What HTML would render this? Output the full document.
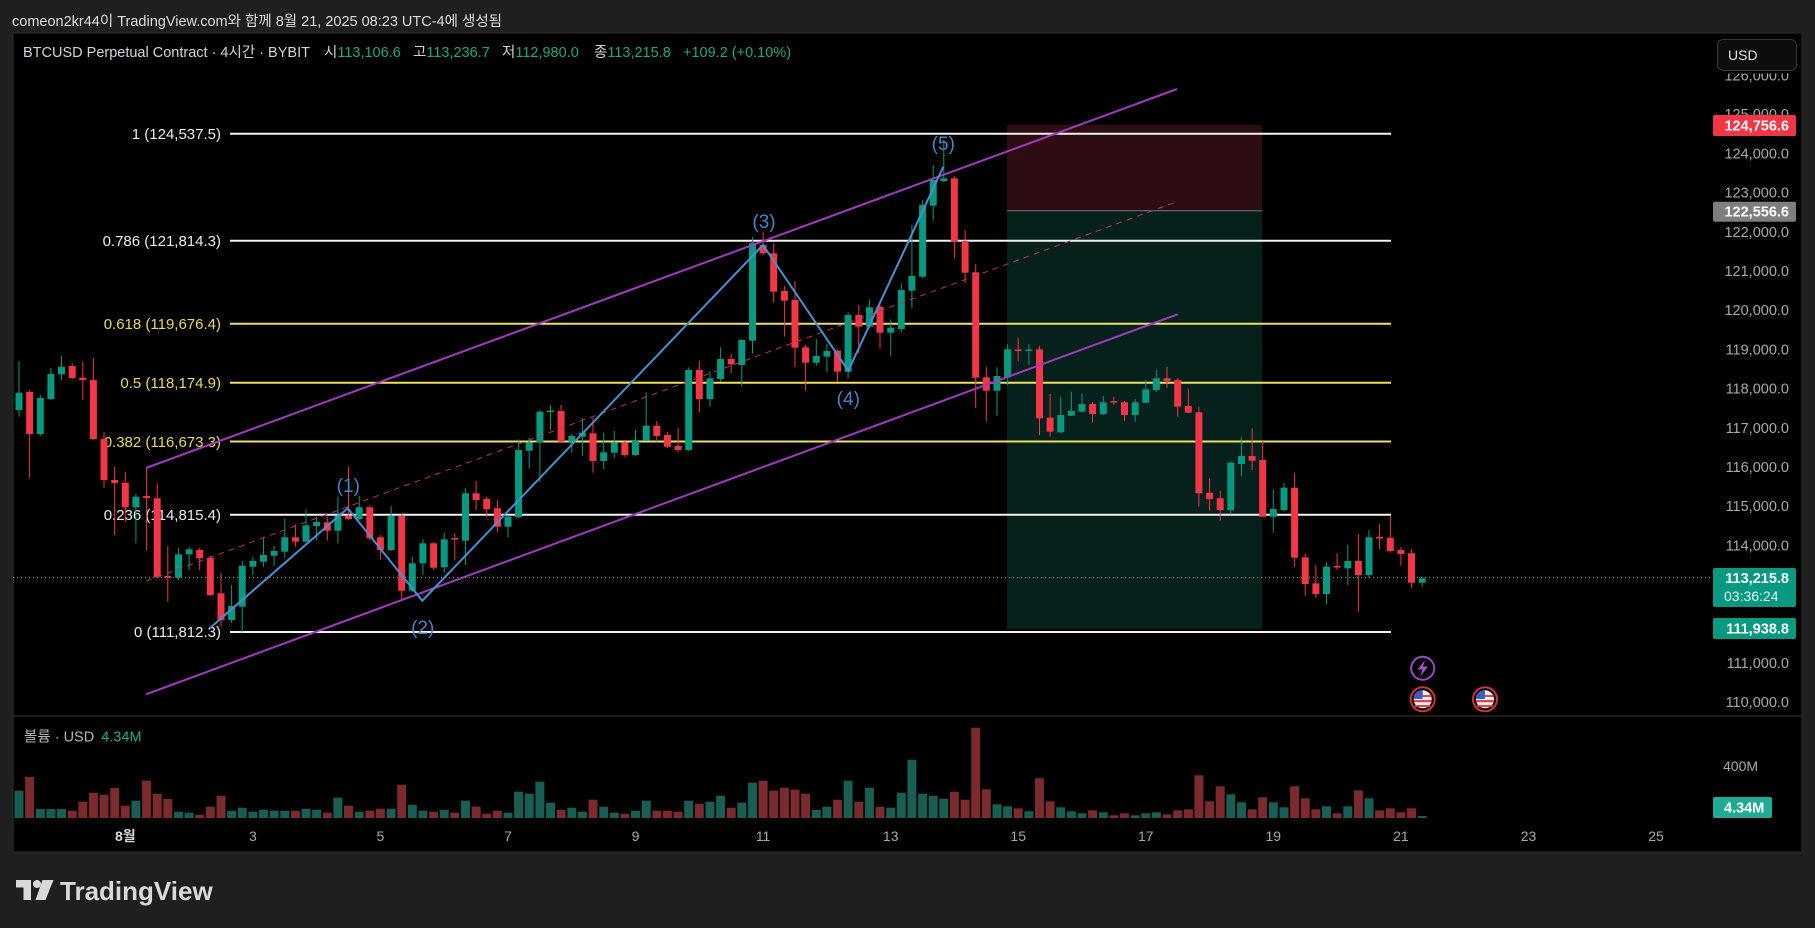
<!DOCTYPE html>
<html><head><meta charset="utf-8"><style>
html,body{margin:0;padding:0;background:#1f1f1f;}
svg{display:block;font-family:"Liberation Sans","Noto Sans CJK KR",sans-serif;}
</style></head><body>
<svg width="1815" height="928" viewBox="0 0 1815 928" xmlns="http://www.w3.org/2000/svg">
<rect x="0" y="0" width="1815" height="928" fill="#1f1f1f"/>
<text x="12" y="26" font-size="14.5" fill="#dcdcdc">comeon2kr44이 TradingView.com와 함께 8월 21, 2025 08:23 UTC-4에 생성됨</text>
<rect x="13" y="33" width="1789" height="819" fill="#000" stroke="#2c2c2c" stroke-width="1"/>

<!-- position box -->
<rect x="1007" y="125" width="255" height="85.7" fill="#2e0d12"/>
<rect x="1007" y="210.7" width="255" height="418.3" fill="#06201c"/>
<line x1="1007" y1="210.7" x2="1262" y2="210.7" stroke="#777" stroke-width="1"/>

<!-- fib lines -->
<g stroke-width="2">
<line x1="230" y1="133.7" x2="1391" y2="133.7" stroke="#f2f2f2"/>
<line x1="230" y1="240.7" x2="1391" y2="240.7" stroke="#f2f2f2"/>
<line x1="230" y1="323.8" x2="1391" y2="323.8" stroke="#ece05e"/>
<line x1="230" y1="382.7" x2="1391" y2="382.7" stroke="#ece05e"/>
<line x1="230" y1="441.5" x2="1391" y2="441.5" stroke="#ece05e"/>
<line x1="230" y1="514.7" x2="1391" y2="514.7" stroke="#f2f2f2"/>
<line x1="230" y1="632" x2="1391" y2="632" stroke="#f2f2f2"/>
</g>
<g font-size="15" text-anchor="end">
<text x="221" y="139" fill="#ececec">1 (124,537.5)</text>
<text x="221" y="246" fill="#ececec">0.786 (121,814.3)</text>
<text x="221" y="329" fill="#e8dc5c">0.618 (119,676.4)</text>
<text x="221" y="388" fill="#e8dc5c">0.5 (118,174.9)</text>
<text x="221" y="447" fill="#e8dc5c">0.382 (116,673.3)</text>
<text x="221" y="520" fill="#ececec">0.236 (114,815.4)</text>
<text x="221" y="637" fill="#ececec">0 (111,812.3)</text>
</g>

<!-- green candles -->
<g fill="#089981">
<rect x="18.5" y="361" width="1" height="55.7"/><rect x="15.5" y="392.7" width="7" height="17.3"/>
<rect x="39.8" y="395" width="1" height="41"/><rect x="36.8" y="398" width="7" height="36"/>
<rect x="50.4" y="368" width="1" height="32"/><rect x="47.4" y="374" width="7" height="25"/>
<rect x="61" y="356" width="1" height="24"/><rect x="58" y="366.7" width="7" height="7.6"/>
<rect x="135.4" y="494" width="1" height="49.3"/><rect x="132.4" y="496.7" width="7" height="10.6"/>
<rect x="178" y="548" width="1" height="32"/><rect x="175" y="554.3" width="7" height="23.4"/>
<rect x="188.6" y="546.7" width="1" height="23.3"/><rect x="185.6" y="549.3" width="7" height="5"/>
<rect x="231.1" y="585" width="1" height="38"/><rect x="228.1" y="606" width="7" height="14"/>
<rect x="241.7" y="561" width="1" height="71.3"/><rect x="238.7" y="565.7" width="7" height="41"/>
<rect x="252.4" y="556.7" width="1" height="18.3"/><rect x="249.4" y="561" width="7" height="5.7"/>
<rect x="263" y="538.3" width="1" height="28.4"/><rect x="260" y="555" width="7" height="6.7"/>
<rect x="273.6" y="546" width="1" height="19.7"/><rect x="270.6" y="551" width="7" height="4.7"/>
<rect x="284.3" y="519" width="1" height="38.7"/><rect x="281.3" y="537.3" width="7" height="14.4"/>
<rect x="305.5" y="509.3" width="1" height="32.7"/><rect x="302.5" y="525.3" width="7" height="16.4"/>
<rect x="316.1" y="516.7" width="1" height="23.3"/><rect x="313.1" y="522" width="7" height="4"/>
<rect x="337.4" y="496.7" width="1" height="46.6"/><rect x="334.4" y="515.7" width="7" height="15"/>
<rect x="358.7" y="496" width="1" height="24"/><rect x="355.7" y="507.3" width="7" height="11.7"/>
<rect x="390.6" y="506" width="1" height="45"/><rect x="387.6" y="515.7" width="7" height="34.3"/>
<rect x="411.8" y="556.7" width="1" height="35.3"/><rect x="408.8" y="563.3" width="7" height="27.4"/>
<rect x="422.4" y="539.3" width="1" height="35.7"/><rect x="419.4" y="543.3" width="7" height="20"/>
<rect x="443.7" y="532.7" width="1" height="40"/><rect x="440.7" y="539.3" width="7" height="28"/>
<rect x="465" y="488.3" width="1" height="76.7"/><rect x="462" y="493.3" width="7" height="47.4"/>
<rect x="507.5" y="515" width="1" height="22.3"/><rect x="504.5" y="516.7" width="7" height="10"/>
<rect x="518.1" y="439.3" width="1" height="78.7"/><rect x="515.1" y="450" width="7" height="67.3"/>
<rect x="528.7" y="437.7" width="1" height="30.6"/><rect x="525.7" y="442.3" width="7" height="8.4"/>
<rect x="539.4" y="410" width="1" height="72.3"/><rect x="536.4" y="411.7" width="7" height="30.6"/>
<rect x="550" y="405" width="1" height="25"/><rect x="547" y="410.5" width="7" height="1.5"/>
<rect x="571.3" y="434" width="1" height="18.7"/><rect x="568.3" y="436" width="7" height="5.7"/>
<rect x="581.9" y="418" width="1" height="38"/><rect x="578.9" y="432.7" width="7" height="4"/>
<rect x="603.2" y="432.7" width="1" height="36.6"/><rect x="600.2" y="452.3" width="7" height="8.7"/>
<rect x="613.8" y="431" width="1" height="26.7"/><rect x="610.8" y="442.7" width="7" height="10"/>
<rect x="635" y="430" width="1" height="26"/><rect x="632" y="440" width="7" height="15"/>
<rect x="645.7" y="392.3" width="1" height="48.7"/><rect x="642.7" y="425.7" width="7" height="15"/>
<rect x="688.2" y="367.3" width="1" height="83.7"/><rect x="685.2" y="370" width="7" height="80"/>
<rect x="709.5" y="371" width="1" height="35.7"/><rect x="706.5" y="378.3" width="7" height="20.7"/>
<rect x="720.1" y="347.3" width="1" height="34.4"/><rect x="717.1" y="359" width="7" height="20"/>
<rect x="741.3" y="339" width="1" height="47.7"/><rect x="738.3" y="340" width="7" height="25"/>
<rect x="752" y="237" width="1" height="116.3"/><rect x="749" y="243" width="7" height="97.7"/>
<rect x="815.8" y="339" width="1" height="26.7"/><rect x="812.8" y="356" width="7" height="6.7"/>
<rect x="826.4" y="344" width="1" height="28.3"/><rect x="823.4" y="351" width="7" height="5.7"/>
<rect x="847.6" y="312.3" width="1" height="66"/><rect x="844.6" y="315" width="7" height="56.7"/>
<rect x="868.9" y="299.3" width="1" height="28.7"/><rect x="865.9" y="307.3" width="7" height="19.4"/>
<rect x="890.2" y="319.3" width="1" height="36.4"/><rect x="887.2" y="327.7" width="7" height="5"/>
<rect x="900.8" y="283.3" width="1" height="49"/><rect x="897.8" y="290" width="7" height="39"/>
<rect x="911.4" y="225" width="1" height="83.3"/><rect x="908.4" y="276" width="7" height="14.7"/>
<rect x="922.1" y="200" width="1" height="78"/><rect x="919.1" y="205" width="7" height="71.7"/>
<rect x="932.7" y="165" width="1" height="55.7"/><rect x="929.7" y="180" width="7" height="25.7"/>
<rect x="943.3" y="140" width="1" height="42"/><rect x="940.3" y="178.3" width="7" height="2.7"/>
<rect x="996.5" y="367.3" width="1" height="48.4"/><rect x="993.5" y="376" width="7" height="14.7"/>
<rect x="1007.1" y="344.3" width="1" height="40.7"/><rect x="1004.1" y="349.3" width="7" height="28"/>
<rect x="1028.4" y="344" width="1" height="21"/><rect x="1025.4" y="349.5" width="7" height="1.5"/>
<rect x="1060.2" y="396.7" width="1" height="36.3"/><rect x="1057.2" y="415" width="7" height="17.3"/>
<rect x="1070.9" y="391.7" width="1" height="24.3"/><rect x="1067.9" y="411" width="7" height="4.7"/>
<rect x="1081.5" y="393.3" width="1" height="18.7"/><rect x="1078.5" y="404" width="7" height="7.7"/>
<rect x="1102.8" y="396" width="1" height="19"/><rect x="1099.8" y="402.3" width="7" height="11.7"/>
<rect x="1134.7" y="399" width="1" height="22.7"/><rect x="1131.7" y="402.3" width="7" height="12.7"/>
<rect x="1145.3" y="380" width="1" height="23"/><rect x="1142.3" y="389.3" width="7" height="13.4"/>
<rect x="1155.9" y="370" width="1" height="21.7"/><rect x="1152.9" y="378.3" width="7" height="11.7"/>
<rect x="1230.3" y="461.7" width="1" height="52.6"/><rect x="1227.3" y="462.7" width="7" height="47.3"/>
<rect x="1241" y="436.7" width="1" height="39.3"/><rect x="1238" y="456" width="7" height="8"/>
<rect x="1272.8" y="489.3" width="1" height="43.4"/><rect x="1269.8" y="509" width="7" height="7.7"/>
<rect x="1283.5" y="482.7" width="1" height="28.3"/><rect x="1280.5" y="487.7" width="7" height="22.3"/>
<rect x="1326" y="562.3" width="1" height="42"/><rect x="1323" y="566.7" width="7" height="27.3"/>
<rect x="1347.3" y="545" width="1" height="40"/><rect x="1344.3" y="561" width="7" height="7.3"/>
<rect x="1368.5" y="530" width="1" height="48.3"/><rect x="1365.5" y="537.3" width="7" height="37.7"/>
<rect x="1421.7" y="576.7" width="1" height="10"/><rect x="1418.7" y="578.3" width="7" height="4.4"/>
</g>
<!-- red candles -->
<g fill="#f23645">
<rect x="29.1" y="390" width="1" height="87.7"/><rect x="26.1" y="392" width="7" height="42"/>
<rect x="71.7" y="363" width="1" height="16"/><rect x="68.7" y="366" width="7" height="12"/>
<rect x="82.3" y="361.7" width="1" height="38.3"/><rect x="79.3" y="377.7" width="7" height="2.3"/>
<rect x="92.9" y="358" width="1" height="82"/><rect x="89.9" y="380" width="7" height="59"/>
<rect x="103.5" y="431.7" width="1" height="56.3"/><rect x="100.5" y="439" width="7" height="41"/>
<rect x="114.2" y="466.7" width="1" height="68.3"/><rect x="111.2" y="480" width="7" height="3"/>
<rect x="124.8" y="471.7" width="1" height="50"/><rect x="121.8" y="482.7" width="7" height="24.6"/>
<rect x="146.1" y="468" width="1" height="82"/><rect x="143.1" y="496" width="7" height="2"/>
<rect x="156.7" y="483.3" width="1" height="94.7"/><rect x="153.7" y="498.3" width="7" height="79"/>
<rect x="167.3" y="546" width="1" height="55.7"/><rect x="164.3" y="576" width="7" height="1.7"/>
<rect x="199.2" y="548" width="1" height="22"/><rect x="196.2" y="550" width="7" height="8.3"/>
<rect x="209.8" y="556" width="1" height="40"/><rect x="206.8" y="557.7" width="7" height="37.3"/>
<rect x="220.5" y="572.7" width="1" height="54"/><rect x="217.5" y="593.3" width="7" height="26.7"/>
<rect x="294.9" y="524.3" width="1" height="22.4"/><rect x="291.9" y="537.3" width="7" height="4.4"/>
<rect x="326.8" y="516.7" width="1" height="24"/><rect x="323.8" y="522.3" width="7" height="8.4"/>
<rect x="348" y="466.7" width="1" height="53.3"/><rect x="345" y="515.7" width="7" height="3.3"/>
<rect x="369.3" y="505" width="1" height="35"/><rect x="366.3" y="507.3" width="7" height="31"/>
<rect x="379.9" y="535" width="1" height="24.3"/><rect x="376.9" y="537.3" width="7" height="12.7"/>
<rect x="401.2" y="514" width="1" height="86"/><rect x="398.2" y="515.7" width="7" height="75"/>
<rect x="433.1" y="542" width="1" height="28"/><rect x="430.1" y="543.3" width="7" height="24.4"/>
<rect x="454.3" y="533.3" width="1" height="26.7"/><rect x="451.3" y="538" width="7" height="1.5"/>
<rect x="475.6" y="481" width="1" height="29"/><rect x="472.6" y="493.3" width="7" height="6.7"/>
<rect x="486.2" y="497" width="1" height="19.7"/><rect x="483.2" y="499" width="7" height="10.3"/>
<rect x="496.9" y="500" width="1" height="32.3"/><rect x="493.9" y="508.3" width="7" height="18.4"/>
<rect x="560.6" y="405" width="1" height="37"/><rect x="557.6" y="411" width="7" height="30.7"/>
<rect x="592.5" y="417.7" width="1" height="55"/><rect x="589.5" y="433.3" width="7" height="27.7"/>
<rect x="624.4" y="440" width="1" height="17"/><rect x="621.4" y="442.7" width="7" height="12.3"/>
<rect x="656.3" y="421" width="1" height="20.7"/><rect x="653.3" y="425.7" width="7" height="10.3"/>
<rect x="666.9" y="431.7" width="1" height="16.6"/><rect x="663.9" y="435" width="7" height="11.7"/>
<rect x="677.6" y="427.7" width="1" height="24.3"/><rect x="674.6" y="445.7" width="7" height="4.3"/>
<rect x="698.8" y="361" width="1" height="51.3"/><rect x="695.8" y="370" width="7" height="29"/>
<rect x="730.7" y="354" width="1" height="19.3"/><rect x="727.7" y="359" width="7" height="5.3"/>
<rect x="762.6" y="231.5" width="1" height="23.5"/><rect x="759.6" y="245" width="7" height="8.3"/>
<rect x="773.2" y="243.3" width="1" height="59.4"/><rect x="770.2" y="253.3" width="7" height="38.4"/>
<rect x="783.9" y="286" width="1" height="50.7"/><rect x="780.9" y="291" width="7" height="9.7"/>
<rect x="794.5" y="281" width="1" height="85.7"/><rect x="791.5" y="300" width="7" height="47.7"/>
<rect x="805.1" y="345" width="1" height="45.7"/><rect x="802.1" y="347.3" width="7" height="15.4"/>
<rect x="837" y="349.3" width="1" height="32.4"/><rect x="834" y="350.7" width="7" height="21"/>
<rect x="858.3" y="305" width="1" height="48.3"/><rect x="855.3" y="315" width="7" height="11.7"/>
<rect x="879.5" y="305" width="1" height="44"/><rect x="876.5" y="306.7" width="7" height="26"/>
<rect x="953.9" y="176" width="1" height="82.3"/><rect x="950.9" y="178.3" width="7" height="63.4"/>
<rect x="964.6" y="230" width="1" height="53.3"/><rect x="961.6" y="241" width="7" height="31.7"/>
<rect x="975.2" y="264" width="1" height="144.3"/><rect x="972.2" y="272.3" width="7" height="105.4"/>
<rect x="985.8" y="366.7" width="1" height="55"/><rect x="982.8" y="377.3" width="7" height="13.4"/>
<rect x="1017.7" y="337.7" width="1" height="24"/><rect x="1014.7" y="349.5" width="7" height="1.5"/>
<rect x="1039" y="346" width="1" height="89"/><rect x="1036" y="349.3" width="7" height="69"/>
<rect x="1049.6" y="394" width="1" height="42.7"/><rect x="1046.6" y="417.7" width="7" height="14"/>
<rect x="1092.1" y="402" width="1" height="20.7"/><rect x="1089.1" y="404" width="7" height="10"/>
<rect x="1113.4" y="396.7" width="1" height="8.3"/><rect x="1110.4" y="401" width="7" height="1.5"/>
<rect x="1124" y="401" width="1" height="19.7"/><rect x="1121" y="402.3" width="7" height="12.7"/>
<rect x="1166.5" y="366.7" width="1" height="21"/><rect x="1163.5" y="378.3" width="7" height="2.7"/>
<rect x="1177.2" y="378" width="1" height="38.7"/><rect x="1174.2" y="380" width="7" height="26.7"/>
<rect x="1187.8" y="389" width="1" height="24"/><rect x="1184.8" y="406" width="7" height="6.7"/>
<rect x="1198.4" y="406.7" width="1" height="100"/><rect x="1195.4" y="412.3" width="7" height="81"/>
<rect x="1209.1" y="478.3" width="1" height="32.4"/><rect x="1206.1" y="492.7" width="7" height="6.3"/>
<rect x="1219.7" y="490.7" width="1" height="30"/><rect x="1216.7" y="498.3" width="7" height="11.7"/>
<rect x="1251.6" y="428.3" width="1" height="41.7"/><rect x="1248.6" y="456" width="7" height="4.7"/>
<rect x="1262.2" y="440" width="1" height="77"/><rect x="1259.2" y="460" width="7" height="56.7"/>
<rect x="1294.1" y="472.7" width="1" height="94"/><rect x="1291.1" y="487.7" width="7" height="70"/>
<rect x="1304.7" y="553.3" width="1" height="42.7"/><rect x="1301.7" y="557.3" width="7" height="26.7"/>
<rect x="1315.4" y="565" width="1" height="32.7"/><rect x="1312.4" y="583.3" width="7" height="10.7"/>
<rect x="1336.6" y="553.3" width="1" height="16.7"/><rect x="1333.6" y="566" width="7" height="1.5"/>
<rect x="1357.9" y="534" width="1" height="77.7"/><rect x="1354.9" y="561" width="7" height="14"/>
<rect x="1379.1" y="524" width="1" height="25.3"/><rect x="1376.1" y="537" width="7" height="1.5"/>
<rect x="1389.8" y="516" width="1" height="36.7"/><rect x="1386.8" y="537.7" width="7" height="13.3"/>
<rect x="1400.4" y="547.3" width="1" height="18.4"/><rect x="1397.4" y="550" width="7" height="4"/>
<rect x="1411" y="549.3" width="1" height="38.4"/><rect x="1408" y="553.3" width="7" height="29.4"/>
</g>

<!-- channel -->
<line x1="146" y1="581" x2="1177" y2="201.6" stroke="#b0365f" stroke-width="1" stroke-dasharray="6 5"/>
<line x1="146" y1="468" x2="1177" y2="89" stroke="#a03bc0" stroke-width="2"/>
<line x1="146" y1="694.3" x2="1177.7" y2="314.3" stroke="#a03bc0" stroke-width="2"/>
<!-- elliott wave -->
<polyline points="210,628 347.7,508.3 422.3,600.7 763,245 848.3,370.7 943.3,166.7" fill="none" stroke="#4a8fd0" stroke-width="2"/>
<g font-size="19" fill="#4784c4" text-anchor="middle">
<text x="348.3" y="492">(1)</text>
<text x="422.7" y="634">(2)</text>
<text x="764" y="228">(3)</text>
<text x="848.3" y="405">(4)</text>
<text x="943.3" y="150">(5)</text>
</g>

<!-- last price line -->
<line x1="13" y1="577.5" x2="1713" y2="577.5" stroke="#6f8c86" stroke-width="1" stroke-dasharray="1 3"/>

<!-- pane separator -->
<line x1="13" y1="716" x2="1802" y2="716" stroke="#383838" stroke-width="1"/>

<!-- volume -->
<g fill="#185e53">
<rect x="14.5" y="790.7" width="9" height="27.3"/><rect x="35.8" y="809" width="9" height="9"/><rect x="46.4" y="809" width="9" height="9"/><rect x="57" y="809" width="9" height="9"/>
<rect x="131.4" y="800.7" width="9" height="17.3"/><rect x="174" y="811.7" width="9" height="6.3"/><rect x="184.6" y="812.7" width="9" height="5.3"/>
<rect x="227.1" y="810.7" width="9" height="7.3"/><rect x="237.7" y="807.7" width="9" height="10.3"/><rect x="248.4" y="811.7" width="9" height="6.3"/><rect x="259" y="809.7" width="9" height="8.3"/><rect x="269.6" y="810.7" width="9" height="7.3"/><rect x="280.3" y="810.7" width="9" height="7.3"/>
<rect x="301.5" y="808.7" width="9" height="9.3"/><rect x="312.1" y="809.7" width="9" height="8.3"/><rect x="333.4" y="797.7" width="9" height="20.3"/><rect x="354.7" y="811.7" width="9" height="6.3"/><rect x="386.6" y="808.7" width="9" height="9.3"/>
<rect x="407.8" y="804.7" width="9" height="13.3"/><rect x="418.4" y="810.7" width="9" height="7.3"/><rect x="439.7" y="809.7" width="9" height="8.3"/><rect x="461" y="800.7" width="9" height="17.3"/>
<rect x="503.5" y="812.7" width="9" height="5.3"/><rect x="514.1" y="791.7" width="9" height="26.3"/><rect x="524.7" y="793.7" width="9" height="24.3"/><rect x="535.4" y="781.7" width="9" height="36.3"/><rect x="546" y="802.7" width="9" height="15.3"/>
<rect x="567.3" y="807.7" width="9" height="10.3"/><rect x="577.9" y="811.7" width="9" height="6.3"/><rect x="599.2" y="806.7" width="9" height="11.3"/><rect x="609.8" y="812.7" width="9" height="5.3"/><rect x="631" y="810.7" width="9" height="7.3"/><rect x="641.7" y="800.7" width="9" height="17.3"/>
<rect x="684.2" y="800.7" width="9" height="17.3"/><rect x="705.5" y="801.7" width="9" height="16.3"/><rect x="716.1" y="795.7" width="9" height="22.3"/><rect x="737.3" y="802.7" width="9" height="15.3"/><rect x="748" y="782.7" width="9" height="35.3"/>
<rect x="811.8" y="809.7" width="9" height="8.3"/><rect x="822.4" y="806.7" width="9" height="11.3"/><rect x="843.6" y="780.7" width="9" height="37.3"/><rect x="864.9" y="787.7" width="9" height="30.3"/>
<rect x="886.2" y="807.7" width="9" height="10.3"/><rect x="896.8" y="792.7" width="9" height="25.3"/><rect x="907.4" y="759.7" width="9" height="58.3"/><rect x="918.1" y="793.7" width="9" height="24.3"/><rect x="928.7" y="795.7" width="9" height="22.3"/><rect x="939.3" y="798.7" width="9" height="19.3"/>
<rect x="992.5" y="804.3" width="9" height="13.7"/><rect x="1003.1" y="806.3" width="9" height="11.7"/><rect x="1024.4" y="811.3" width="9" height="6.7"/>
<rect x="1056.2" y="807.3" width="9" height="10.7"/><rect x="1066.9" y="811.3" width="9" height="6.7"/><rect x="1077.5" y="813.3" width="9" height="4.7"/><rect x="1098.8" y="812.3" width="9" height="5.7"/>
<rect x="1130.7" y="815.3" width="9" height="2.7"/><rect x="1141.3" y="813.3" width="9" height="4.7"/><rect x="1151.9" y="812.3" width="9" height="5.7"/>
<rect x="1226.3" y="794.3" width="9" height="23.7"/><rect x="1237" y="802.3" width="9" height="15.7"/><rect x="1268.8" y="802.3" width="9" height="15.7"/><rect x="1279.5" y="807.3" width="9" height="10.7"/>
<rect x="1322" y="806.3" width="9" height="11.7"/><rect x="1343.3" y="806.3" width="9" height="11.7"/><rect x="1364.5" y="798.3" width="9" height="19.7"/><rect x="1417.7" y="816" width="9" height="2"/>
</g>
<g fill="#7b2a2d">
<rect x="25.1" y="777" width="9" height="41"/><rect x="67.7" y="810.7" width="9" height="7.3"/><rect x="78.3" y="801.7" width="9" height="16.3"/><rect x="88.9" y="792.7" width="9" height="25.3"/><rect x="99.5" y="794.7" width="9" height="23.3"/><rect x="110.2" y="788" width="9" height="30"/><rect x="120.8" y="805.7" width="9" height="12.3"/>
<rect x="142.1" y="780.7" width="9" height="37.3"/><rect x="152.7" y="793.7" width="9" height="24.3"/><rect x="163.3" y="799" width="9" height="19"/><rect x="195.2" y="814.7" width="9" height="3.3"/><rect x="205.8" y="806.7" width="9" height="11.3"/><rect x="216.5" y="795.7" width="9" height="22.3"/>
<rect x="290.9" y="810.7" width="9" height="7.3"/><rect x="322.8" y="812.7" width="9" height="5.3"/><rect x="344" y="805.7" width="9" height="12.3"/><rect x="365.3" y="810.7" width="9" height="7.3"/><rect x="375.9" y="808.7" width="9" height="9.3"/><rect x="397.2" y="784.7" width="9" height="33.3"/>
<rect x="429.1" y="811.7" width="9" height="6.3"/><rect x="450.3" y="812.7" width="9" height="5.3"/><rect x="471.6" y="806.7" width="9" height="11.3"/><rect x="482.2" y="813.7" width="9" height="4.3"/><rect x="492.9" y="810.7" width="9" height="7.3"/>
<rect x="556.6" y="809.7" width="9" height="8.3"/><rect x="588.5" y="799.7" width="9" height="18.3"/><rect x="620.4" y="813.7" width="9" height="4.3"/><rect x="652.3" y="810.7" width="9" height="7.3"/><rect x="662.9" y="810.7" width="9" height="7.3"/><rect x="673.6" y="811.7" width="9" height="6.3"/>
<rect x="694.8" y="803.7" width="9" height="14.3"/><rect x="726.7" y="807.7" width="9" height="10.3"/><rect x="758.6" y="780.7" width="9" height="37.3"/><rect x="769.2" y="790.7" width="9" height="27.3"/><rect x="779.9" y="787.7" width="9" height="30.3"/><rect x="790.5" y="789.7" width="9" height="28.3"/><rect x="801.1" y="793.7" width="9" height="24.3"/>
<rect x="833" y="799.7" width="9" height="18.3"/><rect x="854.3" y="801.7" width="9" height="16.3"/><rect x="875.5" y="806.7" width="9" height="11.3"/><rect x="949.9" y="791.7" width="9" height="26.3"/><rect x="960.6" y="799.7" width="9" height="18.3"/><rect x="971.2" y="727.7" width="9" height="90.3"/><rect x="981.8" y="789.3" width="9" height="28.7"/>
<rect x="1013.7" y="808.3" width="9" height="9.7"/><rect x="1035" y="778.3" width="9" height="39.7"/><rect x="1045.6" y="801.3" width="9" height="16.7"/><rect x="1088.1" y="810.3" width="9" height="7.7"/><rect x="1109.4" y="815.3" width="9" height="2.7"/><rect x="1120" y="813.3" width="9" height="4.7"/>
<rect x="1162.5" y="814.3" width="9" height="3.7"/><rect x="1173.2" y="810.3" width="9" height="7.7"/><rect x="1183.8" y="809.3" width="9" height="8.7"/><rect x="1194.4" y="775.3" width="9" height="42.7"/><rect x="1205.1" y="801.3" width="9" height="16.7"/><rect x="1215.7" y="786.3" width="9" height="31.7"/>
<rect x="1247.6" y="809.3" width="9" height="8.7"/><rect x="1258.2" y="797.3" width="9" height="20.7"/><rect x="1290.1" y="786.3" width="9" height="31.7"/><rect x="1300.7" y="798.3" width="9" height="19.7"/><rect x="1311.4" y="809.3" width="9" height="8.7"/>
<rect x="1332.6" y="813.3" width="9" height="4.7"/><rect x="1353.9" y="790.3" width="9" height="27.7"/><rect x="1375.1" y="810.3" width="9" height="7.7"/><rect x="1385.8" y="808.3" width="9" height="9.7"/><rect x="1396.4" y="812.3" width="9" height="5.7"/><rect x="1407" y="808.3" width="9" height="9.7"/>
</g>
<text x="24" y="741.5" font-size="14.5" fill="#b4b4b4">볼륨 · USD <tspan fill="#22ab94" dx="3">4.34M</tspan></text>

<!-- events icons -->
<circle cx="1422.7" cy="668.3" r="11.5" fill="#000" stroke="#9c46c4" stroke-width="2"/>
<path d="M1425 660 L1417.5 669.5 H1422.5 L1420 677 L1428 666.5 H1423 Z" fill="#a54fd0"/>
<g>
<circle cx="1422.7" cy="699.3" r="12" fill="#000" stroke="#d7313a" stroke-width="2"/>
<circle cx="1422.7" cy="699.3" r="9" fill="#f4f4f4"/>
<path d="M1414 695 h17.4 v2 h-17.4z M1413.8 700 h17.8 v2.2 h-17.8z M1415 705 h15.4 v2 h-15.4z" fill="#e0434b"/>
<path d="M1414.5 694.5 A9 9 0 0 1 1422.7 690.3 V699 H1414 Z" fill="#3c5cc8"/>
</g>
<g>
<circle cx="1485" cy="699.3" r="12" fill="#000" stroke="#d7313a" stroke-width="2"/>
<circle cx="1485" cy="699.3" r="9" fill="#f4f4f4"/>
<path d="M1476.3 695 h17.4 v2 h-17.4z M1476.1 700 h17.8 v2.2 h-17.8z M1477.3 705 h15.4 v2 h-15.4z" fill="#e0434b"/>
<path d="M1476.8 694.5 A9 9 0 0 1 1485 690.3 V699 H1476.3 Z" fill="#3c5cc8"/>
</g>

<!-- price scale -->
<g font-size="14.5" fill="#a9a9a9" text-anchor="end">
<text x="1789" y="80.5">126,000.0</text>
<text x="1789" y="119">125,000.0</text>
<text x="1789" y="158.5">124,000.0</text>
<text x="1789" y="197.5">123,000.0</text>
<text x="1789" y="237">122,000.0</text>
<text x="1789" y="276">121,000.0</text>
<text x="1789" y="315">120,000.0</text>
<text x="1789" y="354.5">119,000.0</text>
<text x="1789" y="393.5">118,000.0</text>
<text x="1789" y="433">117,000.0</text>
<text x="1789" y="472">116,000.0</text>
<text x="1789" y="511">115,000.0</text>
<text x="1789" y="550.5">114,000.0</text>
<text x="1789" y="668">111,000.0</text>
<text x="1789" y="707">110,000.0</text>
</g>
<rect x="1713" y="34" width="88" height="39.5" fill="#000"/>
<text x="1723" y="771" font-size="14" fill="#a9a9a9">400M</text>

<rect x="1713" y="115" width="83" height="21" rx="2" fill="#f23645"/>
<text x="1789" y="130.5" font-size="14.5" font-weight="bold" fill="#fff" text-anchor="end">124,756.6</text>
<rect x="1713" y="201.7" width="83" height="20" rx="2" fill="#7e7e7e"/>
<text x="1789" y="216.5" font-size="14.5" font-weight="bold" fill="#fff" text-anchor="end">122,556.6</text>
<rect x="1713" y="568" width="83" height="39" rx="2" fill="#089981"/>
<text x="1789" y="583" font-size="14.5" font-weight="bold" fill="#fff" text-anchor="end">113,215.8</text>
<text x="1724" y="601" font-size="14" fill="#e6f5f2">03:36:24</text>
<rect x="1713" y="618" width="83" height="21" rx="2" fill="#089981"/>
<text x="1789" y="633.5" font-size="14.5" font-weight="bold" fill="#fff" text-anchor="end">111,938.8</text>
<rect x="1713" y="797" width="59" height="21" rx="2" fill="#22ab94"/>
<text x="1724" y="812.5" font-size="14.5" font-weight="bold" fill="#fff">4.34M</text>

<!-- USD button -->
<rect x="1717.5" y="39.5" width="79" height="31" rx="6" fill="#0d0d0d" stroke="#3a3a3a"/>
<text x="1728" y="60" font-size="14" fill="#e0e0e0">USD</text>

<!-- date axis -->
<g font-size="14" fill="#a9a9a9" text-anchor="middle">
<text x="125.3" y="841" fill="#d8d8d8" font-weight="bold">8월</text>
<text x="252.9" y="841">3</text>
<text x="380.4" y="841">5</text>
<text x="508" y="841">7</text>
<text x="635.5" y="841">9</text>
<text x="763.1" y="841">11</text>
<text x="890.7" y="841">13</text>
<text x="1018.2" y="841">15</text>
<text x="1145.8" y="841">17</text>
<text x="1273.3" y="841">19</text>
<text x="1400.9" y="841">21</text>
<text x="1528.5" y="841">23</text>
<text x="1656" y="841">25</text>
</g>

<!-- title -->
<g font-size="14.5">
<text x="23" y="57" fill="#d1d4dc">BTCUSD Perpetual Contract · 4시간 · BYBIT</text>
<text x="324" y="57" fill="#d1d4dc">시<tspan fill="#22a58c">113,106.6</tspan></text>
<text x="413" y="57" fill="#d1d4dc">고<tspan fill="#22a58c">113,236.7</tspan></text>
<text x="502" y="57" fill="#d1d4dc">저<tspan fill="#22a58c">112,980.0</tspan></text>
<text x="594" y="57" fill="#d1d4dc">종<tspan fill="#22a58c">113,215.8</tspan></text>
<text x="683" y="57" fill="#22a58c">+109.2 (+0.10%)</text>
</g>

<!-- TradingView logo -->
<g fill="#d9d9d9">
<path d="M16 880 H31 V900 H23.5 V887.5 H16 Z"/>
<circle cx="37" cy="884" r="4"/>
<path d="M42.5 880 H53.5 L45.5 900 H35.5 Z"/>
<text x="60" y="900" font-size="26" font-weight="bold">TradingView</text>
</g>
</svg>
</body></html>
